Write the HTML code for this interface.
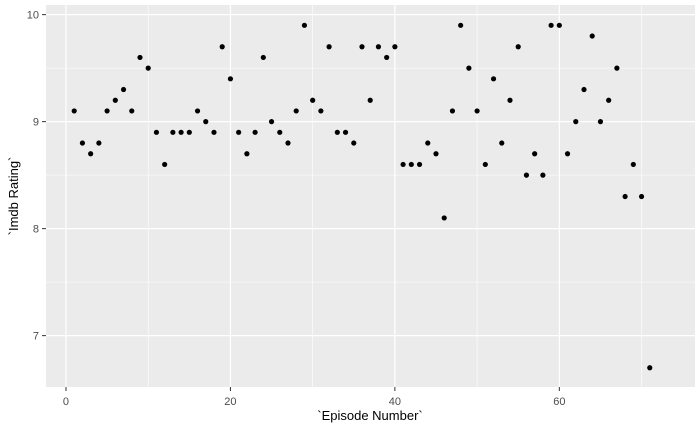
<!DOCTYPE html>
<html><head><meta charset="utf-8"><style>
body{margin:0;background:#fff;font-family:"Liberation Sans",sans-serif}
</style></head><body>
<svg id="chart" width="700" height="432">
<rect x="46" y="5" width="649" height="382" fill="#ebebeb"/>
<g id="grid"></g><g id="pts"></g><g id="axes"></g>
<text x="370" y="420" font-size="13" text-anchor="middle" fill="#000">`Episode Number`</text>
<text transform="translate(18,196) rotate(-90)" font-size="13" text-anchor="middle" fill="#000">`Imdb Rating`</text>
</svg>
<script>
const episodes=[1,2,3,4,5,6,7,8,9,10,11,12,13,14,15,16,17,18,19,20,21,22,23,24,25,26,27,28,29,30,31,32,33,34,35,36,37,38,39,40,41,42,43,44,45,46,47,48,49,50,51,52,53,54,55,56,57,58,59,60,61,62,63,64,65,66,67,68,69,70,71];
const ratings=[9.1,8.8,8.7,8.8,9.1,9.2,9.3,9.1,9.6,9.5,8.9,8.6,8.9,8.9,8.9,9.1,9.0,8.9,9.7,9.4,8.9,8.7,8.9,9.6,9.0,8.9,8.8,9.1,9.9,9.2,9.1,9.7,8.9,8.9,8.8,9.7,9.2,9.7,9.6,9.7,8.6,8.6,8.6,8.8,8.7,8.1,9.1,9.9,9.5,9.1,8.6,9.4,8.8,9.2,9.7,8.5,8.7,8.5,9.9,9.9,8.7,9.0,9.3,9.8,9.0,9.2,9.5,8.3,8.6,8.3,6.7];
const xTicks=[0,20,40,60];
const yTicks=[7,8,9,10];
const L=46,R=695,T=5,B=387;
const x0=-2.43,x1=76.5,y0=6.52,y1=10.09;
const sx=v=>L+(v-x0)/(x1-x0)*(R-L);
const sy=v=>B-(v-y0)/(y1-y0)*(B-T);
const NS="http://www.w3.org/2000/svg";
function mk(tag,attrs,parent){const e=document.createElementNS(NS,tag);for(const k in attrs)e.setAttribute(k,attrs[k]);document.getElementById(parent).appendChild(e);return e;}
for(let i=0;i<xTicks.length+1;i++){const v=xTicks[0]-10+i*20;const e=mk('line',{x1:sx(v),x2:sx(v),y1:T,y2:B,stroke:'#fff','stroke-width':0.6},'grid');

}
for(let i=0;i<yTicks.length+1;i++){const v=yTicks[0]-0.5+i;const e=mk('line',{x1:L,x2:R,y1:sy(v),y2:sy(v),stroke:'#fff','stroke-width':0.6},'grid');

}
xTicks.forEach(v=>{const e=mk('line',{x1:sx(v),x2:sx(v),y1:T,y2:B,stroke:'#fff','stroke-width':1.2},'grid');


const t=mk('line',{x1:sx(v),x2:sx(v),y1:B,y2:B+4,stroke:'#333'},'axes');


const l=mk('text',{x:sx(v),y:B+18,'font-size':11,'text-anchor':'middle',fill:'#4d4d4d'},'axes');l.textContent=v;

});
yTicks.forEach(v=>{const e=mk('line',{x1:L,x2:R,y1:sy(v),y2:sy(v),stroke:'#fff','stroke-width':1.2},'grid');


const t=mk('line',{x1:L-4,x2:L,y1:sy(v),y2:sy(v),stroke:'#333'},'axes');


const l=mk('text',{x:L-7,y:sy(v)+4,'font-size':11,'text-anchor':'end',fill:'#4d4d4d'},'axes');l.textContent=v;

});
episodes.forEach((ep,i)=>{const c=mk('circle',{cx:sx(ep),cy:sy(ratings[i]),r:2.6,fill:'#000'},'pts');

});
</script>
</body></html>
